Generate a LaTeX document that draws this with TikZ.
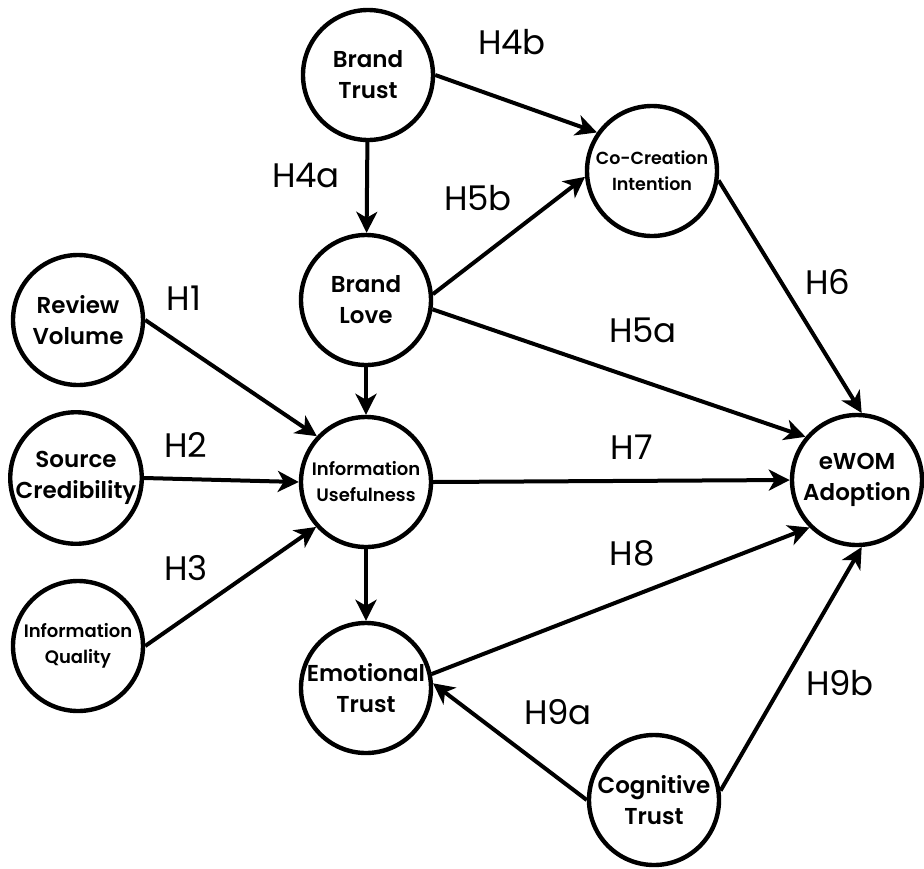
\documentclass[tikz,border=0pt]{standalone}
\usepackage{fontspec}
\setmainfont{Poppins}[BoldFont={Poppins SemiBold}]
\usetikzlibrary{arrows.meta}
\begin{document}
\begin{tikzpicture}[x=1pt,y=-1pt,
  cnode/.style={circle,draw,line width=4.4pt,minimum size=130pt,inner sep=0pt,align=center,font=\bfseries\fontsize{23}{31}\selectfont},
  snode/.style={cnode,font=\bfseries\fontsize{18}{26}\selectfont},
  hlab/.style={font=\fontsize{34}{36}\selectfont},
  conn/.style={line width=4pt,-{Stealth[length=21pt,width=21pt,inset=6pt]}}]
\useasboundingbox (0,0) rectangle (924,868);
\node[cnode] (bt) at (368,75) {Brand\\Trust};
\node[cnode] (bl) at (366,300) {Brand\\Love};
\node[snode,font=\bfseries\fontsize{17.5}{26}\selectfont] (cc) at (652,171) {Co-Creation\\Intention};
\node[cnode] (rv) at (78,320) {Review\\Volume};
\node[cnode] (sc) at (76,478) {Source\\Credibility};
\node[snode] (iq) at (78,646) {Information\\Quality};
\node[snode] (iu) at (366,482) {Information\\Usefulness};
\node[cnode] (et) at (366,688) {Emotional\\Trust};
\node[cnode] (ew) at (857,480) {eWOM\\Adoption};
\node[cnode] (ct) at (654,800) {Cognitive\\Trust};
\draw[conn] (bt.east) -- (cc.145);
\draw[conn] (bt) -- (bl);
\draw[conn] (bl.5) -- (cc.185);
\draw[conn] (bl.-8) -- (ew.140);
\draw[conn] (bl) -- (iu);
\draw[conn] (rv.east) -- (iu.137);
\draw[conn] (sc.east) -- (iu.west);
\draw[conn] (iq.east) -- (iu.222);
\draw[conn] (iu.east) -- (ew.west);
\draw[conn] (iu) -- (et);
\draw[conn] (et.12) -- (ew.225);
\draw[conn] (ct.west) -- (et.4);
\draw[conn] (ct.8) -- (ew.-86);
\draw[conn] (cc.-8) -- (ew.86);
\node[hlab] (l4b) at (512,42) {H4b};
\node[hlab] (l4a) at (306,175) {H4a};
\node[hlab] (l5b) at (478,198) {H5b};
\node[hlab] (l1) at (184,298) {H1};
\node[hlab] (l5a) at (643,330) {H5a};
\node[hlab] (l6) at (828,282) {H6};
\node[hlab] (l2) at (186,445) {H2};
\node[hlab] (l7) at (632,447) {H7};
\node[hlab] (l3) at (186,568) {H3};
\node[hlab] (l8) at (632,553) {H8};
\node[hlab] (l9a) at (558,712) {H9a};
\node[hlab] (l9b) at (840,683) {H9b};
\end{tikzpicture}
\end{document}
